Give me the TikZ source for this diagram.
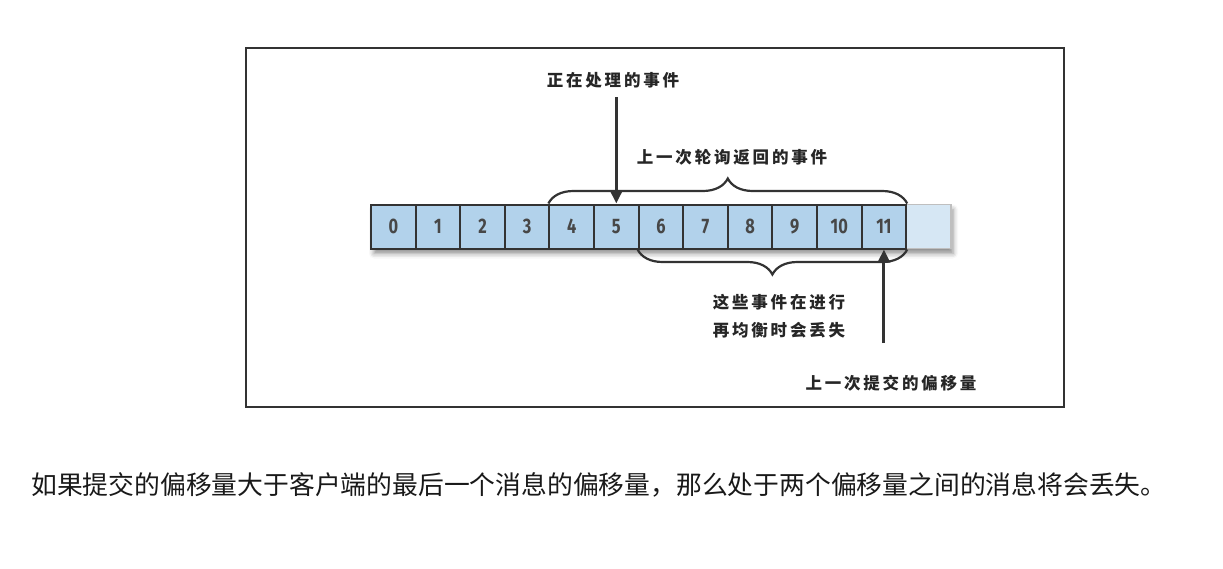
\documentclass[tikz,border=0pt]{standalone}
\usepackage{fontspec}
\usepackage{xcolor}
\usepackage{tikz}
\usetikzlibrary{arrows.meta,positioning,decorations.pathreplacing,shadows.blur}

\newfontfamily\cjk{Noto Sans CJK SC}
\newfontfamily\cjklabel[LetterSpace=17]{Noto Sans CJK SC}
\newfontfamily\digitfont[FakeStretch=0.78]{Fira Sans}

\definecolor{cellblue}{HTML}{B2D2EB}
\definecolor{cellpale}{HTML}{D6E7F4}
\definecolor{inkgray}{HTML}{333333}

\begin{document}
\begin{tikzpicture}[
  x=1pt, y=-1pt,
  >=Triangle,
  cell/.style={draw=inkgray, line width=2pt, fill=cellblue, inner sep=0pt,
               minimum width=44.6pt, minimum height=44pt,
               font=\digitfont\bfseries\fontsize{21}{21}\selectfont, text=inkgray!90},
  ghost/.style={cell, draw=black!25, fill=cellpale, line width=1.5pt},
  lbl/.style={font=\cjklabel\bfseries\fontsize{16.5}{28}\selectfont, text=black!85,
              align=center, inner sep=0pt},
  curly/.style={draw=inkgray, line width=2.2pt,
                decorate, decoration={brace, amplitude=25pt}},
  ptr/.style={->, draw=inkgray, line width=3pt,
              -{Triangle[width=12pt,length=13pt]}},
]
  \useasboundingbox (0,0) rectangle (1223,568);

  % frame
  \draw[inkgray, line width=2pt] (246,48) rectangle (1064,407);

  % shadow under the row
  \fill[white, blur shadow={shadow xshift=3pt, shadow yshift=-5pt,
        shadow blur radius=5pt, shadow opacity=45}]
    (371,204.5) rectangle (950,248.5);

  % cells
  \node[ghost] (cx) at (393.3+12*44.6,226.5) {};
  \foreach \i in {0,...,11}
    \node[cell] (c\i) at (393.3+\i*44.6,226.5) {\i};

  % braces
  \draw[curly] (c4.north west) -- (c11.north east);
  \draw[curly] (c11.south east) -- (c6.south west);

  % labels
  \node[lbl] (lblCur) at (613,80) {正在处理的事件};
  \node[lbl] (lblPoll) at (732,157) {上一次轮询返回的事件};
  \node[lbl] (lblLost) at (779,316) {这些事件在进行\\再均衡时会丢失};
  \node[lbl] (lblCommit) at (891,383) {上一次提交的偏移量};

  % pointers
  \coordinate (curTop) at (c5.north |- 0,97);
  \coordinate (cmtBot) at (c11.south |- 0,343);
  \draw[ptr] (curTop) -- (c5.north);
  \draw[ptr] (cmtBot) -- (c11.south);

  % caption
  \node[anchor=west, inner sep=0pt, font=\cjk\fontsize{25.8}{26}\selectfont,
        text=black!90] (caption) at (31,485)
    {如果提交的偏移量大于客户端的最后一个消息的偏移量，那么处于两个偏移量之间的消息将会丢失。};
\end{tikzpicture}
\end{document}
